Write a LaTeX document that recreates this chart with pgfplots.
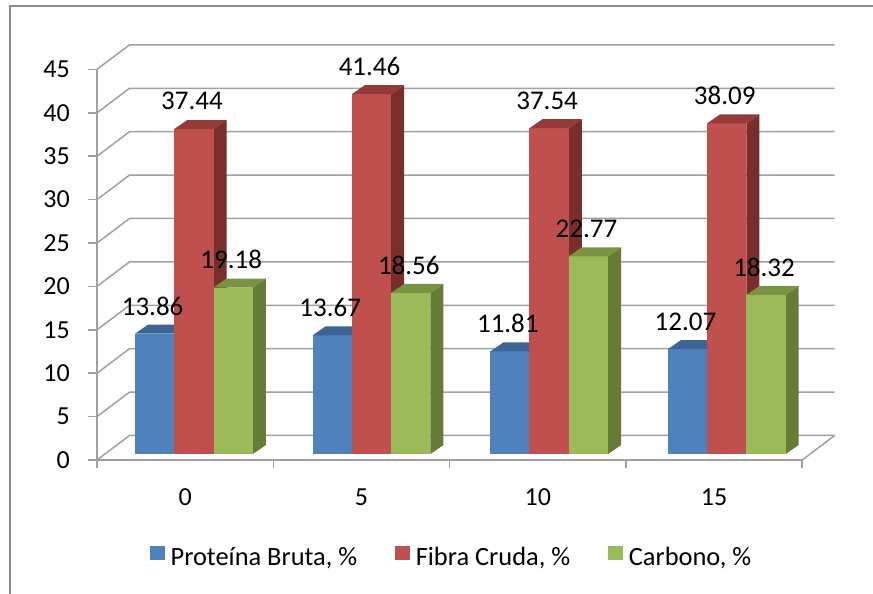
\documentclass[border=0pt]{standalone}
\usepackage{fontspec}
\setmainfont{Carlito}
\usepackage{pgfplots}
\pgfplotsset{compat=1.18}
\usepackage{pgfplotstable}
\definecolor{s0front}{HTML}{4F81BD}
\definecolor{s0top}{HTML}{3D6494}
\definecolor{s0side}{HTML}{30507A}
\definecolor{s1front}{HTML}{C0504D}
\definecolor{s1top}{HTML}{943A38}
\definecolor{s1side}{HTML}{7A2E2C}
\definecolor{s2front}{HTML}{9BBB59}
\definecolor{s2top}{HTML}{789341}
\definecolor{s2side}{HTML}{657B36}
\definecolor{gridgray}{HTML}{A0A0A0}
\definecolor{framegray}{HTML}{8C8C8C}
\pgfplotstableread{
c PB FC CA
0 13.86 37.44 19.18
1 13.67 41.46 18.56
2 11.81 37.54 22.77
3 12.07 38.09 18.32
}\data
\begin{document}
\begin{tikzpicture}
\path[use as bounding box] (-97bp,-134bp) rectangle (776bp,460bp);
\draw[framegray, line width=1.5bp] (-87bp,-140bp) -- (-87bp,454bp) -- (790bp,454bp);
\begin{axis}[
  anchor=origin, at={(0,0)},
  x=176.3bp, y=8.68bp,
  xmin=0, xmax=4, ymin=0, ymax=45,
  clip=false,
  axis lines*=left,
  axis line style={draw=gridgray, line width=1.5bp, -},
  xtick pos=bottom, ytick pos=left,
  ytick={0,5,...,45},
  xtick={0.5,1.5,2.5,3.5},
  xticklabels={0,5,10,15},
  xtick style={draw=none},
  ytick style={draw=gridgray, line width=1.5bp},
  tick align=outside,
  major tick length=9bp,
  tick label style={font=\fontsize{26bp}{30bp}\selectfont},
  /pgf/number format/assume math mode=true,
  yticklabel style={anchor=east, inner sep=0pt, xshift=-18bp},
  xticklabel style={anchor=center, inner sep=0pt, yshift=-28bp},
  legend columns=3,
  legend cell align=left,
  legend style={at={(axis description cs:0.0752,-0.2473)}, anchor=west,
    draw=none, fill=none, inner sep=0pt, outer sep=0pt,
    font=\fontsize{26.4bp}{30bp}\selectfont,
    nodes={inner sep=0pt},
    /tikz/every even column/.append style={column sep=38bp},
    /tikz/every odd column/.append style={column sep=6bp}},
  legend image code/.code={\fill[#1] (0bp,-3bp) rectangle (14.6bp,11.6bp);},
]
% back wall / floor grid
\pgfplotsforeachungrouped \v in {0,5,...,45}{%
  \pgfmathsetmacro\vb{\v+2.823}%
  \edef\cmd{\noexpand\addplot[draw=gridgray, line width=1.5bp, mark=none, forget plot] coordinates {(0,\v) (0.1843,\vb) (4.1843,\vb)};}\cmd
}
\addplot[draw=gridgray, line width=1.5bp, mark=none, forget plot] coordinates {(4,0) (4.1843,2.823)};
\addplot[draw=gridgray, line width=1.5bp, mark=none, forget plot] coordinates {(0,0) (0,-0.92)};
\addplot[draw=gridgray, line width=1.5bp, mark=none, forget plot] coordinates {(1,0) (1,-0.92)};
\addplot[draw=gridgray, line width=1.5bp, mark=none, forget plot] coordinates {(2,0) (2,-0.92)};
\addplot[draw=gridgray, line width=1.5bp, mark=none, forget plot] coordinates {(3,0) (3,-0.92)};
\addplot[draw=gridgray, line width=1.5bp, mark=none, forget plot] coordinates {(4,0) (4,-0.92)};
% 3D bars
\pgfplotsforeachungrouped \r in {0,1,2,3}{%
  \pgfplotsforeachungrouped \s in {0,1,2}{%
    \ifcase\s\relax \def\col{PB}\or \def\col{FC}\or \def\col{CA}\fi
    \pgfplotstablegetelem{\r}{\col}\of\data
    \let\val=\pgfplotsretval
    \pgfmathsetmacro\xa{0.2155+1.00737*\r+0.2229*\s}%
    \pgfmathsetmacro\xb{\xa+0.2229}%
    \pgfmathsetmacro\xc{\xa+0.0737}%
    \pgfmathsetmacro\xd{\xb+0.0737}%
    \pgfmathsetmacro\ya{0.691}%
    \pgfmathsetmacro\yb{0.691+\val}%
    \pgfmathsetmacro\yc{\ya+1.037}%
    \pgfmathsetmacro\yd{\yb+1.037}%
    \edef\cmd{%
      \noexpand\addplot[fill=s\s side, draw=none, mark=none, forget plot] coordinates {(\xb,\ya) (\xd,\yc) (\xd,\yd) (\xb,\yb)};
      \noexpand\addplot[fill=s\s front, draw=none, mark=none, forget plot] coordinates {(\xa,\ya) (\xb,\ya) (\xb,\yb) (\xa,\yb)};
      \noexpand\addplot[fill=s\s top, draw=none, mark=none, forget plot] coordinates {(\xa,\yb) (\xb,\yb) (\xd,\yd) (\xc,\yd)};
    }\cmd
  }%
}
% data labels
\addplot[draw=none, mark=none, forget plot, point meta=\thisrow{PB},
  nodes near coords={\pgfmathprintnumber[fixed,fixed zerofill,precision=2]{\pgfplotspointmeta}},
  every node near coord/.append style={anchor=center, inner sep=0pt, font=\fontsize{27bp}{30bp}\selectfont}]
  table[x expr={0.3156+1.00737*\thisrow{c}}, y expr={\thisrow{PB}+3.89}] {\data};
\addplot[draw=none, mark=none, forget plot, point meta=\thisrow{FC},
  nodes near coords={\pgfmathprintnumber[fixed,fixed zerofill,precision=2]{\pgfplotspointmeta}},
  every node near coord/.append style={anchor=center, inner sep=0pt, font=\fontsize{27bp}{30bp}\selectfont}]
  table[x expr={0.5385+1.00737*\thisrow{c}}, y expr={\thisrow{FC}+3.89}] {\data};
\addplot[draw=none, mark=none, forget plot, point meta=\thisrow{CA},
  nodes near coords={\pgfmathprintnumber[fixed,fixed zerofill,precision=2]{\pgfplotspointmeta}},
  every node near coord/.append style={anchor=center, inner sep=0pt, font=\fontsize{27bp}{30bp}\selectfont}]
  table[x expr={0.7614+1.00737*\thisrow{c}}, y expr={\thisrow{CA}+3.89}] {\data};
% legend
\addlegendimage{fill=s0front, draw=none}
\addlegendentry{Proteína Bruta, \%}
\addlegendimage{fill=s1front, draw=none}
\addlegendentry{Fibra Cruda, \%}
\addlegendimage{fill=s2front, draw=none}
\addlegendentry{Carbono, \%}
\end{axis}
\end{tikzpicture}
\end{document}
